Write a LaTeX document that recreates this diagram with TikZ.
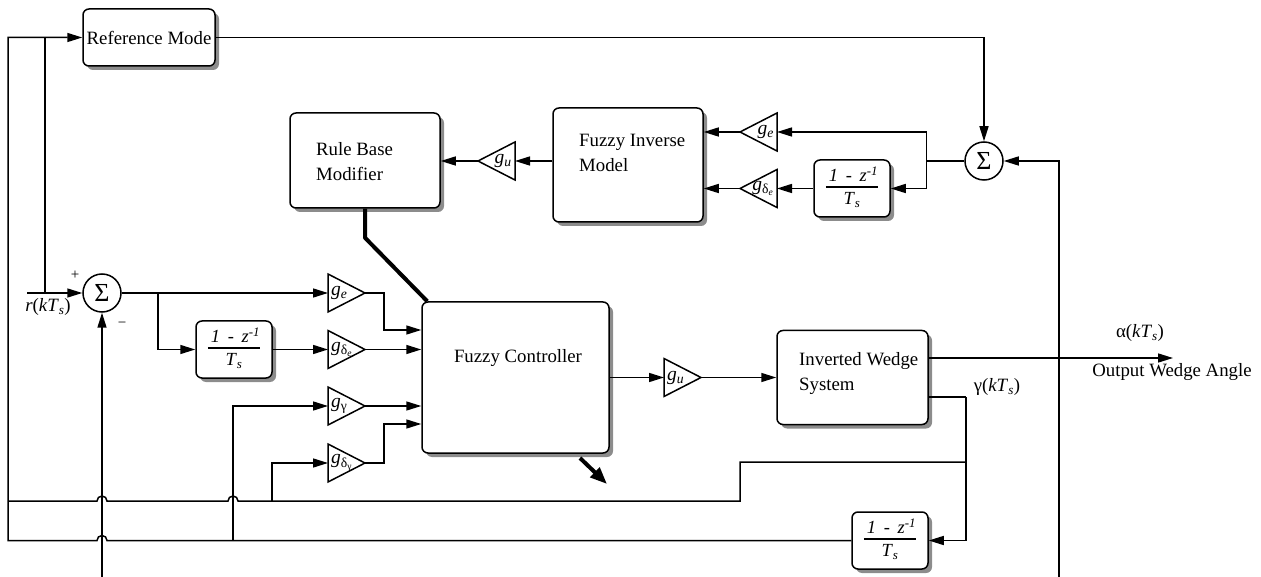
\documentclass[tikz,border=0pt]{standalone}
\usepackage{fontspec}
\setmainfont{Liberation Serif}
\usetikzlibrary{arrows.meta,shadows,calc}

% gain symbol text: g with a subscript
\newcommand{\gsub}[1]{\textit{g}\textsubscript{#1}}
% discrete derivative (1 - z^-1)/Ts
\setlength{\arrayrulewidth}{1.3pt}
\newcommand{\dquot}{{\fontsize{18.5}{18}\selectfont\begin{tabular}{@{}c@{}}\textit{\,1 \,-\, z}\textsuperscript{\textit{-1}}\\[-1pt]\hline\rule{0pt}{17pt}\textit{T}\textsubscript{\textit{s}}\end{tabular}}}

\tikzset{
  wire/.style={line width=1.5pt},
  arr/.style={wire, -{Triangle[length=15pt,width=9pt]}},
  blk/.style={draw, line width=1.5pt, rounded corners=6pt, fill=white, inner sep=0pt,
    drop shadow={shadow xshift=4pt, shadow yshift=-4pt, fill=black!45, opacity=1}},
  sumnode/.style={draw, circle, line width=1.5pt, minimum size=38pt, inner sep=0pt, fill=white,
    font=\fontsize{26}{26}\selectfont},
  txt/.style={inner sep=0pt, font=\fontsize{18.8}{25}\selectfont},
  glbl/.style={inner sep=0pt, font=\fontsize{19.5}{19.5}\selectfont},
  heavy/.style={line width=4pt, line join=round},
  gainR/.pic={
    \draw[wire, line join=miter] (0,-19) -- (37,0) -- (0,19) -- cycle;
    \coordinate (-in) at (0,0);
    \coordinate (-out) at (37,0);
    \node[glbl, anchor=west] (-lbl) at (3,0) {#1};
  },
  gainL/.pic={
    \draw[wire, line join=miter] (0,-19) -- (-37,0) -- (0,19) -- cycle;
    \coordinate (-in) at (0,0);
    \coordinate (-out) at (-37,0);
    \node[glbl, anchor=east] (-lbl) at (-3,0) {#1};
  },
}

\begin{document}
\begin{tikzpicture}[x=1pt,y=-1pt, font=\fontsize{18.8}{25}\selectfont]
\useasboundingbox (0,0) rectangle (1261,577);

% ---------- blocks ----------
\node[blk, minimum width=132, minimum height=57] (RM)  at (149,37.5) {};
\node[blk, minimum width=150, minimum height=95] (RBM) at (365,160.5) {};
\node[blk, minimum width=150, minimum height=114] (FIM) at (628,165) {};
\node[blk, minimum width=187, minimum height=151] (FC)  at (515.5,377.5) {};
\node[blk, minimum width=151, minimum height=94] (IWS) at (852.5,377.5) {};
\node[blk, minimum width=76, minimum height=57] (D1) at (852,188.5) {\dquot};
\node[blk, minimum width=76, minimum height=57] (D2) at (234,349.5) {\dquot};
\node[blk, minimum width=76, minimum height=57] (D3) at (890,540.5) {\dquot};

\node[txt] (rmtxt) at (RM.center) {Reference Mode};
\node[txt, align=left, anchor=west] (rbmtxt) at (316,162) {Rule Base\\Modifier};
\node[txt, align=left, anchor=west] (fimtxt) at (579,153) {Fuzzy Inverse\\Model};
\node[txt] (fctxt) at (518,358) {Fuzzy Controller};
\node[txt, align=left, anchor=west] (iwstxt) at (799,374) {Inverted Wedge\\System};

% ---------- summing junctions ----------
\node[sumnode] (S1) at (102,293) {Σ};
\node[sumnode] (S2) at (984,161) {Σ};

% ---------- gains ----------
\pic (ge1)  at (328,293)   {gainR={\gsub{\textit{e}}}};
\pic (gde1) at (328,349.5) {gainR={\gsub{δ\textsubscript{\textit{e}}}}};
\pic (gg)   at (328,406)   {gainR={\gsub{γ}}};
\pic (gdg)  at (328,463)   {gainR={\gsub{δ\textsubscript{γ}}}};
\pic (gu2)  at (664,377.5) {gainR={\gsub{\textit{u}}}};
\pic (gu1)  at (515,161)   {gainL={\gsub{\textit{u}}}};
\pic (ge2)  at (777,132)   {gainL={\gsub{\textit{e}}}};
\pic (gde2) at (777,188.5) {gainL={\gsub{δ\textsubscript{\textit{e}}}}};

% ---------- free ends and junctions ----------
\coordinate (rin)   at (27,293);
\coordinate (rtap)  at (45,293);
\coordinate (dtap)  at (158,293);
\coordinate (bL)    at (102,577);
\coordinate (bR)    at (1059,577);
\coordinate (outA)  at (IWS.east |- 0,358);
\coordinate (outG)  at (IWS.east |- 0,397);
\coordinate (outEnd) at (1173,358);
\coordinate (gcol)  at (966,397);
\coordinate (gtap)  at (966,462);
\coordinate (g1tap) at (272,501);
\coordinate (g2tap) at (233,540.5);
\coordinate (fcA)   at (580,458);
\coordinate (fcB)   at (607,484);

% ---------- reference input and reference model ----------
\draw[arr] (rin) -- (S1.west);
\draw[wire] (rtap) -- (rtap |- RM.west);
\draw[arr] (RM.east) -| (S2.north);

% ---------- error path into the controller ----------
\draw[arr] (S1.east) -- (ge1-in);
\draw[arr] (dtap) |- (D2.west);
\draw[arr] (D2.east) -- (gde1-in);
\draw[arr] (ge1-out) -- ++(19,0) |- (FC.west |- 0,330);
\draw[arr] (gde1-out) -- (gde1-out -| FC.west);
\draw[arr] (gg-out) -- (gg-out -| FC.west);
\draw[arr] (gdg-out) -- ++(19,0) |- (FC.west |- 0,424);

% ---------- controller to plant ----------
\draw[arr] (FC.east) -- (gu2-in);
\draw[arr] (gu2-out) -- (IWS.west);
\draw[arr] (outA) -- (outEnd);

% ---------- learning loop ----------
\draw[arr] (bR) |- (S2.east);
\draw[arr] (S2.west) -- ++(-38,0) |- (ge2-in);
\draw[arr] (S2.west) -- ++(-38,0) |- (D1.east);
\draw[arr] (D1.west) -- (gde2-in);
\draw[arr] (ge2-out) -- (ge2-out -| FIM.east);
\draw[arr] (gde2-out) -- (gde2-out -| FIM.east);
\draw[arr] (FIM.west |- gu1-in) -- (gu1-in);
\draw[arr] (gu1-out) -- (gu1-out -| RBM.east);
\draw[heavy] (RBM.south) -- ++(0,29) -- ($(FC.north west)+(6,0)$);
\draw[heavy, -{Triangle[length=17pt,width=13pt]}] (fcA) -- (fcB);

% ---------- angle feedback ----------
\draw[wire] (outG) -- (gcol);
\draw[arr] (gcol) |- (D3.east);
\draw[wire] (gtap) -- (740,462) -- (740,501) -- (238,501)
  arc[start angle=0, end angle=-180, radius=5] -- (107,501)
  arc[start angle=0, end angle=-180, radius=5] -- (8,501);
\draw[arr] (D3.west) -- (107,540.5)
  arc[start angle=0, end angle=-180, radius=5] -- (8,540.5) |- (RM.west);
\draw[arr] (g2tap) |- (gg-in);
\draw[arr] (g1tap) |- (gdg-in);
\draw[arr] (bL) -- (S1.south);

% ---------- signal labels ----------
\node[inner sep=0pt, font=\fontsize{15}{15}\selectfont] (plus) at (75,275) {+};
\node[inner sep=0pt, font=\fontsize{15}{15}\selectfont] (minus) at (122,325) {−};
\node[txt] (rlbl) at (48,307) {\textit{r}(\textit{kT}\textsubscript{\textit{s}})};
\node[txt] (albl) at (1140,333) {α(\textit{kT}\textsubscript{\textit{s}})};
\node[txt] (olbl) at (1172,372) {Output Wedge Angle};
\node[txt] (glbl) at (997,387) {γ(\textit{kT}\textsubscript{\textit{s}})};
\end{tikzpicture}
\end{document}
